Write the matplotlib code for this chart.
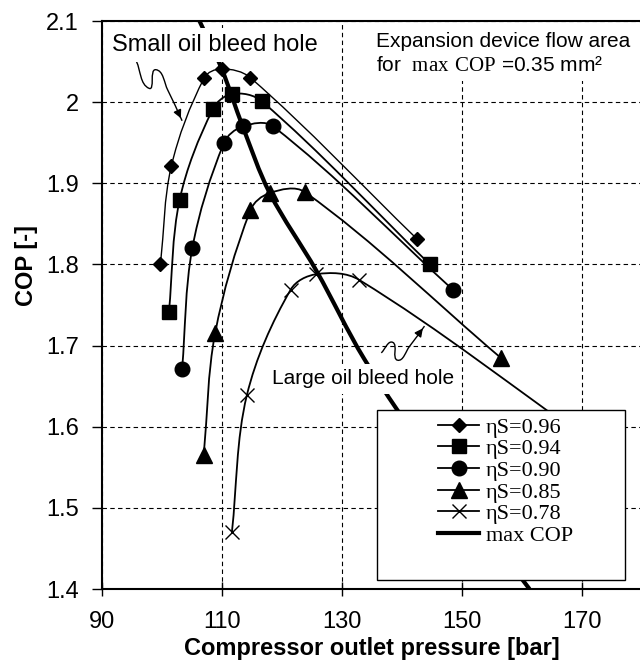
import numpy as np
import matplotlib
matplotlib.use("Agg")
import matplotlib.pyplot as plt
from matplotlib.path import Path
from matplotlib.patches import PathPatch, Rectangle
from matplotlib.lines import Line2D
import matplotlib.ticker as mticker

plt.rcParams["font.family"] = "Liberation Sans"
plt.rcParams["mathtext.fontset"] = "custom"
plt.rcParams["mathtext.rm"] = "Liberation Serif"

# --- Data ---
p_096 = [99.8, 101.6, 107.1, 110.0, 114.8, 142.6]
cop_096 = [1.801, 1.921, 2.030, 2.041, 2.030, 1.831]

p_094 = [101.2, 103.0, 108.5, 111.7, 116.7, 144.7]
cop_094 = [1.741, 1.880, 1.991, 2.010, 2.001, 1.800]

p_090 = [103.4, 105.1, 110.4, 113.5, 118.6, 148.5]
cop_090 = [1.671, 1.820, 1.950, 1.970, 1.970, 1.769]

p_085 = [107.0, 108.9, 114.8, 118.0, 123.9, 156.5]
cop_085 = [1.565, 1.715, 1.867, 1.888, 1.889, 1.685]

p_078 = [111.7, 114.2, 121.5, 125.8, 132.9, 172.0]
cop_078 = [1.470, 1.639, 1.769, 1.788, 1.781, 1.579]

p_max = [106.3, 110.0, 113.5, 118.0, 125.8, 133.8, 145.0, 161.3]
cop_max = [2.10, 2.041, 1.970, 1.888, 1.792, 1.683, 1.56, 1.40]

series = [
    ("ηS=0.96", p_096, cop_096, "D", 7, 1.0),
    ("ηS=0.94", p_094, cop_094, "s", 10, 1.3),
    ("ηS=0.90", p_090, cop_090, "o", 10.5, 1.3),
    ("ηS=0.85", p_085, cop_085, "^", 11, 1.3),
    ("ηS=0.78", p_078, cop_078, "x", 10, 1.3),
]

# wiggly leader lines of the two notes, data coords
small_arrow_x = [95.8, 97.9, 99.0, 101.0, 103.4]
small_arrow_y = [2.050, 2.017, 2.040, 2.015, 1.977]
large_arrow_x = [136.6, 138.5, 139.3, 141.3, 143.8]
large_arrow_y = [1.691, 1.704, 1.682, 1.699, 1.724]

XLIM = (90, 180)
YLIM = (1.4, 2.1)
AX_W, AX_H = 540, 568  # axes size in pixels


def smooth_path(xs, ys):
    # Excel-like smoothed line: cubic Bezier, tangents from neighbours,
    # handle length a third of the segment (worked out in screen space)
    sx = AX_W / (XLIM[1] - XLIM[0])
    sy = AX_H / (YLIM[1] - YLIM[0])
    pts = np.column_stack([np.asarray(xs) * sx, np.asarray(ys) * sy])
    n = len(pts)
    verts = [pts[0]]
    codes = [Path.MOVETO]
    for i in range(n - 1):
        p0 = pts[max(i - 1, 0)]
        p1 = pts[i]
        p2 = pts[i + 1]
        p3 = pts[min(i + 2, n - 1)]
        d = np.linalg.norm(p2 - p1)
        t1 = (p2 - p0) / np.linalg.norm(p2 - p0)
        t2 = (p3 - p1) / np.linalg.norm(p3 - p1)
        verts += [p1 + t1 * d / 3, p2 - t2 * d / 3, p2]
        codes += [Path.CURVE4] * 3
    verts = np.array(verts) / [sx, sy]
    return Path(verts, codes)


fig = plt.figure(figsize=(6.4, 6.67), dpi=100)
ax = fig.add_axes([101.7 / 640, 1 - 589 / 667, AX_W / 640, AX_H / 667])

ax.set_xlim(*XLIM)
ax.set_ylim(*YLIM)
ax.set_xticks([90, 110, 130, 150, 170])
ax.set_yticks(np.arange(1.4, 2.11, 0.1))
ax.yaxis.set_major_formatter(mticker.FuncFormatter(lambda v, _: f"{v:g}"))
ax.grid(True, color="black", linestyle=(0, (4, 3)), linewidth=0.8)
ax.tick_params(axis="x", direction="inout", length=10, width=1, labelsize=17, pad=11)
ax.tick_params(axis="y", direction="out", length=7, width=1, labelsize=17, pad=9.5)
for side in ["left", "bottom", "top"]:
    ax.spines[side].set_linewidth(1.5)

handles = []
for label, xs, ys, mk, ms, lw in series:
    ax.add_patch(PathPatch(smooth_path(xs, ys), fill=False, lw=lw, ec="black", zorder=2))
    ax.plot(xs, ys, ls="none", marker=mk, ms=ms, color="black", mew=1.0, zorder=3)
    handles.append(Line2D([], [], color="black", lw=1.3, marker=mk, ms=ms, mew=1.0, label=label))

ax.add_patch(PathPatch(smooth_path(p_max, cop_max), fill=False, lw=3, ec="black", zorder=2))
handles.append(Line2D([], [], color="black", lw=3, label="max COP"))

for xs, ys in [(small_arrow_x, small_arrow_y), (large_arrow_x, large_arrow_y)]:
    ax.add_patch(PathPatch(smooth_path(xs, ys), fill=False, lw=1, ec="black", zorder=2))
    ax.annotate("", xy=(xs[-1], ys[-1]),
                xytext=(xs[-2] + (xs[-1] - xs[-2]) * 0.6, ys[-2] + (ys[-1] - ys[-2]) * 0.6),
                arrowprops=dict(arrowstyle="-|>", color="black", lw=1, mutation_scale=12),
                zorder=2)

ax.text(0.0185, 0.947, "Small oil bleed hole", transform=ax.transAxes, fontsize=17,
        va="baseline", ha="left", zorder=4,
        bbox=dict(facecolor="white", edgecolor="none", pad=4))
ax.text(0.3148, 0.3604, "Large oil bleed hole", transform=ax.transAxes, fontsize=15,
        va="baseline", ha="left", zorder=4,
        bbox=dict(facecolor="white", edgecolor="none", pad=4))
ax.text(0.508, 0.9806, "Expansion device flow area\nfor  $\\mathrm{max\\ COP}$ =0.35 mm²",
        transform=ax.transAxes, fontsize=15, va="top", ha="left", linespacing=1.3,
        zorder=4, bbox=dict(facecolor="white", edgecolor="none", pad=5))

ax.add_patch(Rectangle((0.5098, 0.0158), 0.4593, 0.2993, transform=ax.transAxes,
                       facecolor="white", edgecolor="black", lw=1, zorder=5))
leg = ax.legend(handles=handles, loc="upper left", bbox_to_anchor=(0.6228, 0.3028),
                frameon=False, prop={"family": "Liberation Serif", "size": 16},
                borderpad=0, borderaxespad=0, labelspacing=0.05,
                handlelength=1.85, handletextpad=0.3)
leg.set_zorder(6)

ax.set_xlabel("Compressor outlet pressure [bar]", fontsize=17, fontweight="bold", labelpad=3)
ax.set_ylabel("COP [-]", fontsize=17, fontweight="bold")
ax.yaxis.set_label_coords(-0.1177, 0.5687)

fig.savefig("out.png", dpi=100)
